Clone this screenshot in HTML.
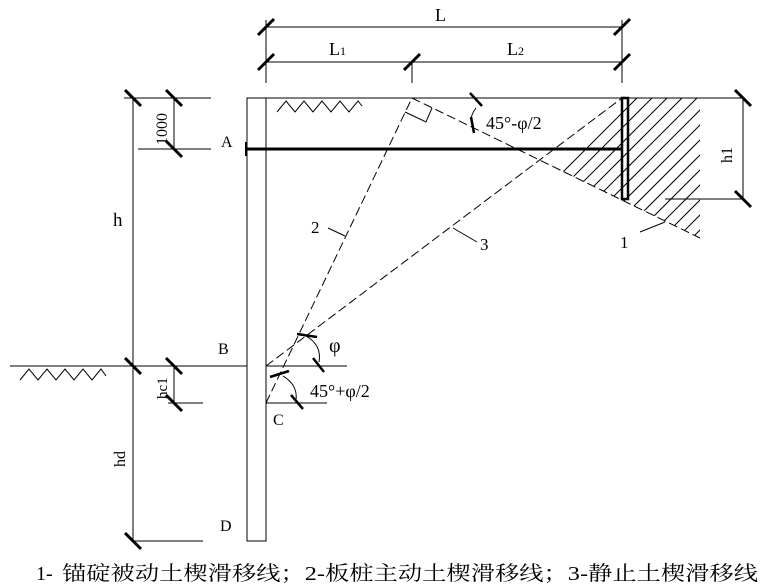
<!DOCTYPE html>
<html><head><meta charset="utf-8"><style>
html,body{margin:0;padding:0;background:#fff;}
svg{display:block;}
text{font-family:"Liberation Serif","Noto Serif CJK SC",serif;fill:#000;}
</style></head><body>
<svg width="766" height="586" viewBox="0 0 766 586" xmlns="http://www.w3.org/2000/svg">
<defs>
<clipPath id="hc"><polygon points="539.5,160 622,98 700,98 700,238"/></clipPath>
</defs>
<g stroke="#000" stroke-width="1" fill="none">
<line x1="266" y1="20" x2="266" y2="83"/>
<line x1="622" y1="20" x2="622" y2="83"/>
<line x1="412" y1="62" x2="412" y2="83"/>
<line x1="266" y1="27" x2="622" y2="27"/>
<line x1="266" y1="62" x2="622" y2="62"/>
<rect x="247" y="98" width="19" height="443"/>
<line x1="247" y1="98" x2="745" y2="98"/>
<line x1="124" y1="98" x2="211" y2="98"/>
<line x1="138" y1="149" x2="211" y2="149"/>
<line x1="133" y1="98" x2="133" y2="541"/>
<line x1="174" y1="98" x2="174" y2="149"/>
<line x1="10" y1="366" x2="247" y2="366"/>
<line x1="266" y1="366" x2="347" y2="366"/>
<line x1="174" y1="366" x2="174" y2="403"/>
<line x1="168" y1="403" x2="203" y2="403"/>
<line x1="266" y1="403" x2="327" y2="403"/>
<line x1="133" y1="541" x2="203" y2="541"/>
<line x1="743" y1="98" x2="743" y2="199"/>
<line x1="665" y1="199" x2="743" y2="199"/>
<polyline points="277,112 286,101 295,112 304,101 313,112 322,101 331,112 340,101 349,112 358,101 362,106"/>
<polyline points="20,380 29,369 38,380 47,369 56,380 65,369 74,380 83,369 92,380 101,369 106,376"/>
<g clip-path="url(#hc)">
<line x1="500" y1="250" x2="680" y2="70"/><line x1="515" y1="250" x2="695" y2="70"/>
<line x1="530" y1="250" x2="710" y2="70"/><line x1="545" y1="250" x2="725" y2="70"/>
<line x1="560" y1="250" x2="740" y2="70"/><line x1="575" y1="250" x2="755" y2="70"/>
<line x1="590" y1="250" x2="770" y2="70"/><line x1="605" y1="250" x2="785" y2="70"/>
<line x1="620" y1="250" x2="800" y2="70"/><line x1="635" y1="250" x2="815" y2="70"/>
<line x1="650" y1="250" x2="830" y2="70"/><line x1="665" y1="250" x2="845" y2="70"/>
<line x1="680" y1="250" x2="860" y2="70"/><line x1="485" y1="250" x2="665" y2="70"/>
</g>
<g stroke-dasharray="9,4">
<line x1="266" y1="403" x2="412" y2="98"/>
<line x1="266" y1="366" x2="622" y2="98"/>
<line x1="412" y1="98" x2="700" y2="238"/>
</g>
<polyline points="405,112 426,122 432,108"/>
<line x1="328" y1="228" x2="345" y2="236"/>
<line x1="453" y1="228" x2="477" y2="242"/>
<line x1="640" y1="232" x2="665" y2="222"/>
<path d="M306,336 Q322,345 319,362"/>
<path d="M283,376 Q298,385 296,400"/>
<path d="M476,108 Q468,118 473,128"/>
</g>
<g stroke="#000" stroke-width="3" fill="none">
<line x1="247" y1="149" x2="622" y2="149"/>
<line x1="246" y1="142" x2="246" y2="156" stroke-width="2"/>
<rect x="622" y="98" width="6" height="101" stroke-width="2.5"/>
<line x1="258" y1="35" x2="274" y2="19"/><line x1="614" y1="35" x2="630" y2="19"/>
<line x1="258" y1="70" x2="274" y2="54"/><line x1="404" y1="70" x2="420" y2="54"/><line x1="614" y1="70" x2="630" y2="54"/>
<line x1="125" y1="90" x2="141" y2="106"/><line x1="166" y1="90" x2="182" y2="106"/><line x1="166" y1="141" x2="182" y2="157"/>
<line x1="125" y1="358" x2="141" y2="374"/><line x1="166" y1="358" x2="182" y2="374"/><line x1="166" y1="395" x2="182" y2="411"/>
<line x1="125" y1="533" x2="141" y2="549"/>
<line x1="735" y1="90" x2="751" y2="106"/><line x1="735" y1="191" x2="751" y2="207"/>
<line x1="470" y1="93" x2="482" y2="106" stroke-width="2.5"/><line x1="471" y1="117" x2="474" y2="133" stroke-width="2.5"/>
<line x1="297" y1="334" x2="317" y2="337" stroke-width="2.5"/><line x1="313" y1="358" x2="324" y2="372" stroke-width="2.5"/>
<line x1="270" y1="377" x2="289" y2="371" stroke-width="2.5"/><line x1="291" y1="395" x2="303" y2="409" stroke-width="2.5"/>
</g>
<text x="435" y="21" font-size="18">L</text>
<text x="329" y="55" font-size="18">L<tspan font-size="12">1</tspan></text>
<text x="507" y="55" font-size="18">L<tspan font-size="12">2</tspan></text>
<text x="221" y="147" font-size="16">A</text>
<text x="218" y="354" font-size="16">B</text>
<text x="273" y="425" font-size="16">C</text>
<text x="220" y="531" font-size="16">D</text>
<text x="113" y="226" font-size="19">h</text>
<text x="311" y="233" font-size="17">2</text>
<text x="480" y="250" font-size="17">3</text>
<text x="620" y="248" font-size="17">1</text>
<text x="486" y="129" font-size="18" font-family="Liberation Sans,sans-serif">45°-φ/2</text>
<text x="329" y="352" font-size="20" font-family="Liberation Sans,sans-serif">φ</text>
<text x="310" y="397" font-size="18" font-family="Liberation Sans,sans-serif">45°+φ/2</text>
<text transform="translate(167,145) rotate(-90)" font-size="16">1000</text>
<text transform="translate(167,399) rotate(-90)" font-size="15">hc1</text>
<text transform="translate(125,467) rotate(-90)" font-size="16">hd</text>
<text transform="translate(732,163) rotate(-90)" font-size="16">h1</text>
<text x="36" y="580" font-size="20">1-</text>
<text x="62" y="580" font-size="20" textLength="696" lengthAdjust="spacingAndGlyphs">锚碇被动土楔滑移线；2-板桩主动土楔滑移线；3-静止土楔滑移线</text>
</svg>
</body></html>
